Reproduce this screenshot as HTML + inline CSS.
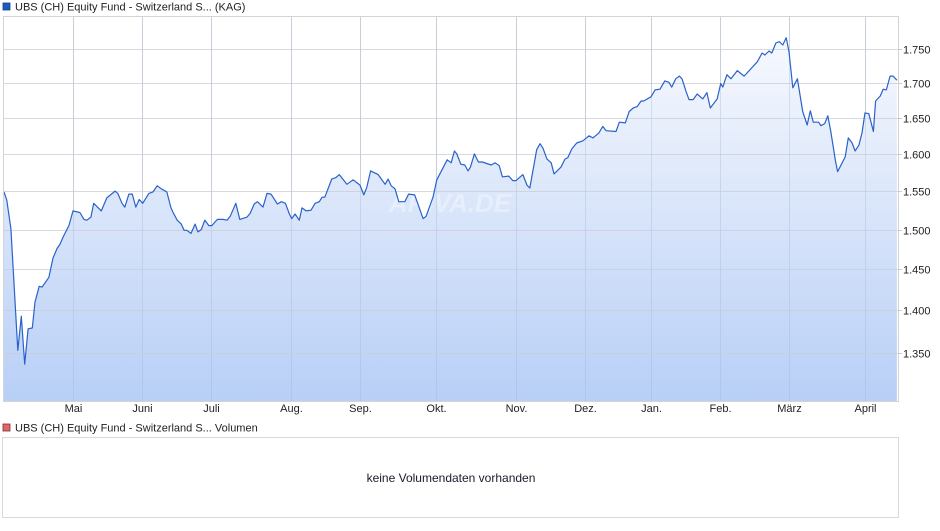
<!DOCTYPE html>
<html><head><meta charset="utf-8"><style>
html,body{margin:0;padding:0;background:#fff;}
body{width:940px;height:526px;overflow:hidden;font-family:"Liberation Sans",sans-serif;}
svg text{font-family:"Liberation Sans",sans-serif;}
</style></head><body>
<svg id="chart" width="940" height="526" viewBox="0 0 940 526">
<defs>
<linearGradient id="fillGrad" x1="0" y1="0" x2="0" y2="1" gradientUnits="userSpaceOnUse" x1a="0">
</linearGradient>
<linearGradient id="areaGrad" x1="0" y1="38" x2="0" y2="401" gradientUnits="userSpaceOnUse">
<stop offset="0" stop-color="#f7f9fe"/>
<stop offset="1" stop-color="#b8cff6"/>
</linearGradient>
</defs>
<rect x="3" y="3" width="7" height="7" fill="#1d5bbf" stroke="#123f8a" stroke-width="0.8"/>
<text x="15" y="10.5" font-size="11" fill="#222">UBS (CH) Equity Fund - Switzerland S... (KAG)</text>
<g id="gridV"></g>
<g id="area"></g>
<g id="gridH"></g>
<g id="line"></g>
<rect x="3.5" y="16.5" width="895" height="385" fill="none" stroke="#d4d4d4"/>
<g id="yTicks"></g>
<g id="xTicks"></g>
<rect x="3" y="424" width="7" height="7" fill="#d96a6a" stroke="#8a2b2b" stroke-width="0.8"/>
<text x="15" y="431.5" font-size="11" fill="#222">UBS (CH) Equity Fund - Switzerland S... Volumen</text>
<rect x="2.5" y="437.5" width="896" height="80" fill="#fff" stroke="#d9d9d9"/>
<text x="451" y="482" font-size="12" fill="#1a1a2e" text-anchor="middle">keine Volumendaten vorhanden</text>
</svg>
<script>
// months since 1 April (0 = Apr 1, 12 = Apr 1 next year)
const monthPos = [0,0.04,0.10,0.20,0.25,0.30,0.35,0.41,0.45,0.51,0.55,0.65,0.71,0.77,0.81,0.86,0.94,
1.00,1.10,1.16,1.20,1.26,1.30,1.41,1.49,1.61,1.65,1.71,1.75,1.81,1.86,1.91,1.96,
2.01,2.10,2.16,2.22,2.28,2.36,2.42,2.45,2.51,2.57,2.61,2.65,2.71,2.77,2.81,2.86,2.91,2.97,
3.01,3.08,3.15,3.20,3.24,3.31,3.36,3.45,3.49,3.54,3.58,3.65,3.70,3.75,3.83,3.88,3.93,3.98,
4.01,4.06,4.12,4.16,4.22,4.29,4.35,4.41,4.45,4.49,4.59,4.65,4.70,4.81,4.90,
5.00,5.05,5.09,5.14,5.24,5.33,5.37,5.41,5.46,5.51,5.59,5.64,5.72,5.83,5.87,5.96,
6.01,6.14,6.19,6.23,6.26,6.31,6.36,6.40,6.43,6.48,6.53,6.58,6.69,6.74,6.79,6.83,6.91,6.96,
7.00,7.10,7.16,7.20,7.30,7.35,7.39,7.45,7.51,7.55,7.65,7.71,7.75,7.81,7.88,7.97,
8.06,8.12,8.21,8.27,8.32,8.47,8.52,8.61,8.67,8.73,8.79,8.85,8.89,
9.00,9.06,9.13,9.20,9.26,9.30,9.36,9.41,9.45,9.51,9.55,9.61,9.67,9.75,9.81,9.86,9.96,
10.01,10.04,10.10,10.16,10.25,10.35,10.54,10.61,10.65,10.71,10.75,10.81,10.86,10.91,10.96,
11.00,11.05,11.11,11.18,11.24,11.28,11.32,11.39,11.42,11.47,11.51,11.55,11.61,11.64,11.68,11.74,11.78,11.83,11.87,11.92,11.96,
12.00,12.05,12.11,12.14,12.20,12.24,12.28,12.33,12.37,12.42];
const prices = [1.549,1.538,1.501,1.353,1.393,1.337,1.378,1.379,1.410,1.429,1.428,1.440,1.464,1.476,1.481,1.491,1.505,
1.524,1.522,1.513,1.512,1.516,1.534,1.524,1.541,1.550,1.547,1.534,1.529,1.546,1.546,1.529,1.539,
1.534,1.547,1.549,1.557,1.553,1.549,1.528,1.522,1.512,1.507,1.499,1.499,1.495,1.507,1.497,1.500,1.512,1.505,
1.505,1.513,1.513,1.512,1.517,1.534,1.513,1.516,1.521,1.533,1.536,1.529,1.547,1.546,1.533,1.536,1.534,1.520,
1.514,1.520,1.512,1.528,1.524,1.525,1.534,1.536,1.542,1.542,1.566,1.568,1.572,1.559,1.565,
1.558,1.545,1.555,1.577,1.572,1.559,1.566,1.557,1.553,1.536,1.536,1.546,1.545,1.514,1.517,1.542,
1.565,1.592,1.588,1.604,1.600,1.586,1.585,1.577,1.582,1.600,1.589,1.589,1.585,1.588,1.584,1.569,1.570,1.564,
1.564,1.572,1.558,1.554,1.606,1.614,1.608,1.593,1.588,1.573,1.582,1.593,1.595,1.607,1.615,1.618,
1.625,1.622,1.629,1.638,1.632,1.631,1.644,1.643,1.659,1.664,1.666,1.674,1.674,
1.680,1.690,1.691,1.703,1.701,1.694,1.706,1.710,1.706,1.687,1.676,1.676,1.684,1.677,1.686,1.664,1.677,
1.699,1.694,1.712,1.706,1.718,1.710,1.731,1.744,1.741,1.747,1.744,1.759,1.761,1.756,1.767,
1.746,1.693,1.706,1.659,1.640,1.660,1.644,1.644,1.639,1.642,1.653,1.631,1.591,1.576,1.584,1.596,1.622,1.615,1.604,1.612,1.629,
1.657,1.656,1.631,1.674,1.681,1.691,1.690,1.710,1.710,1.704];
const monthLabels = ["Mai","Juni","Juli","Aug.","Sep.","Okt.","Nov.","Dez.","Jan.","Feb.","März","April"];
const yTickValues = [1.350,1.400,1.450,1.500,1.550,1.600,1.650,1.700,1.750];
const yTickLabels = ["1.350","1.400","1.450","1.500","1.550","1.600","1.650","1.700","1.750"];

const NS = "http://www.w3.org/2000/svg";
const monthPx = [4,73,142,211,291,360,436,516,585,651,720,789,865];
function xScale(m){
  let i = Math.min(Math.floor(m), 11);
  if (i < 0) i = 0;
  const w = monthPx[i+1] - monthPx[i];
  return monthPx[i] + (m - i) * w;
}
function yScale(v){ return 49 + (Math.log(1.75) - Math.log(v)) * 1171; }
function mk(tag, attrs, parent){
  const e = document.createElementNS(NS, tag);
  for (const k in attrs) e.setAttribute(k, attrs[k]);
  parent.appendChild(e);
  return e;
}
const gV = document.getElementById('gridV'), gH = document.getElementById('gridH');
const gA = document.getElementById('area'), gL = document.getElementById('line');
const gY = document.getElementById('yTicks'), gX = document.getElementById('xTicks');

monthLabels.forEach((lab, i) => {
  const x = Math.round(xScale(i+1)) + 0.5;
  const l = mk('line', {x1:x, y1:17, x2:x, y2:401, stroke:'#dcdcdc', 'stroke-width':1}, gV);
  
  
  const t = mk('text', {x:x, y:412, 'font-size':11, fill:'#222', 'text-anchor':'middle'}, gX);
  t.textContent = lab;
  
  
});

let d = '';
monthPos.forEach((m, i) => { d += (i ? 'L' : 'M') + xScale(m).toFixed(1) + ',' + yScale(prices[i]).toFixed(1); });
const lastX = xScale(monthPos[monthPos.length-1]).toFixed(1);
const area = mk('path', {d: d + 'L' + lastX + ',401L' + xScale(monthPos[0]).toFixed(1) + ',401Z', fill:'url(#areaGrad)'}, gA);



// watermark
const wm = mk('text', {x:450, y:212, 'font-size':26, 'font-style':'italic', 'font-weight':'bold', fill:'#ffffff', 'fill-opacity':0.35, 'text-anchor':'middle'}, gA);
wm.textContent = 'ARIVA.DE';



// vertical gridlines over the fill (bluish tint)
monthLabels.forEach((lab, i) => {
  const x = Math.round(xScale(i+1)) + 0.5;
  const l = mk('line', {x1:x, y1:17, x2:x, y2:401, stroke:'#9fb4d8', 'stroke-opacity':0.35, 'stroke-width':1}, gH);
  
  
});

yTickValues.forEach((v, i) => {
  const y = Math.round(yScale(v)) + 0.5;
  const l = mk('line', {x1:4, y1:y, x2:898, y2:y, stroke:'#c9ccd3', 'stroke-opacity':0.75, 'stroke-width':1}, gH);
  
  
  const tk = mk('line', {x1:898, y1:y, x2:902, y2:y, stroke:'#ccc'}, gY);
  
  
  const t = mk('text', {x:903, y:y+4, 'font-size':11, fill:'#222'}, gY);
  t.textContent = yTickLabels[i];
  
  
});

const line = mk('path', {d:d, fill:'none', stroke:'#2a62c9', 'stroke-width':1.2, 'stroke-linejoin':'round'}, gL);


</script>
</body></html>
